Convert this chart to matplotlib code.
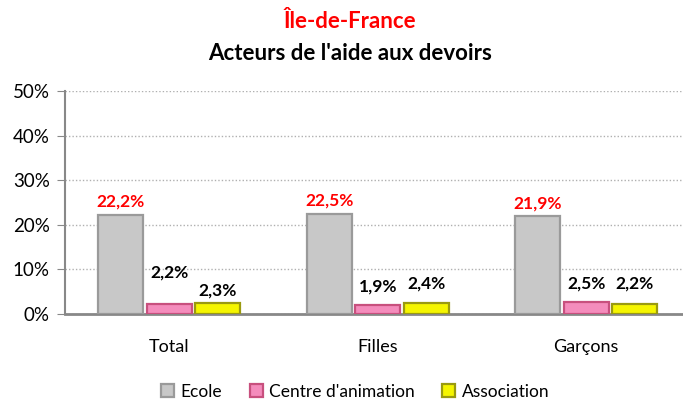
import numpy as np
import matplotlib.pyplot as plt

plt.rcParams['font.family'] = ['Lato', 'DejaVu Sans']

groups = ["Total", "Filles", "Garçons"]
series = ["Ecole", "Centre d'animation", "Association"]
ecole = [22.2, 22.5, 21.9]
centre = [2.2, 1.9, 2.5]
association = [2.3, 2.4, 2.2]
values = [ecole, centre, association]

faces = ["#c8c8c8", "#f48cbc", "#f5f500"]
edges = ["#9a9a9a", "#c8507e", "#9a9a10"]
label_colors = ["#ff0000", "black", "black"]
# label centre heights above bar tops (pixels), as placed in the original
label_offsets = [[13, 13, 13], [31, 19, 19], [13, 19, 20]]

fig = plt.figure(figsize=(6.83, 4.03), dpi=100)
ax = fig.add_axes([0.0952, 0.222, 0.9048, 0.551])

x = np.arange(len(groups))
width = 0.215
step = 0.232

for i, (vals, name) in enumerate(zip(values, series)):
    pos = x + (i - 1) * step
    ax.bar(pos, vals, width, color=faces[i], edgecolor=edges[i], linewidth=1.6,
           label=name, zorder=3)
    for j, v in enumerate(vals):
        txt = f"{v:.1f}".replace(".", ",") + "%"
        ax.annotate(txt, (pos[j], v), xytext=(0, label_offsets[i][j] * 0.72),
                    textcoords="offset points", ha="center", va="center",
                    fontsize=12.5, fontweight="bold", color=label_colors[i])

ax.set_xlim(-0.5, 2.464)
ax.set_ylim(0, 50)
ax.set_yticks(np.arange(0, 51, 10))
ax.set_yticklabels([f"{t}%" for t in range(0, 51, 10)], fontsize=13.5)
ax.set_xticks(x)
ax.set_xticklabels(groups, fontsize=13)
ax.tick_params(axis="x", length=0, pad=18)
ax.tick_params(axis="y", length=6, color="#888888", direction="out", pad=5)
ax.yaxis.grid(True, linestyle=(0, (1, 1.5)), color="#b0b0b0", linewidth=1, zorder=0)
ax.set_axisbelow(True)
for s in ["top", "right"]:
    ax.spines[s].set_visible(False)
ax.spines["left"].set_color("#888888")
ax.spines["left"].set_linewidth(1.5)
ax.spines["bottom"].set_color("#888888")
ax.spines["bottom"].set_linewidth(2)

fig.text(0.512, 0.947, "Île-de-France", ha="center", va="center",
         fontsize=16, fontweight="bold", color="#ff0000")
fig.text(0.512, 0.868, "Acteurs de l'aide aux devoirs", ha="center", va="center",
         fontsize=16, fontweight="bold", color="black")

fig.legend(loc="center", bbox_to_anchor=(0.52, 0.028), ncol=3, frameon=False,
           fontsize=12.5, handlelength=0.75, handleheight=0.75, columnspacing=1.6,
           handletextpad=0.35, borderpad=0.2)

fig.savefig("out.png", dpi=100)
